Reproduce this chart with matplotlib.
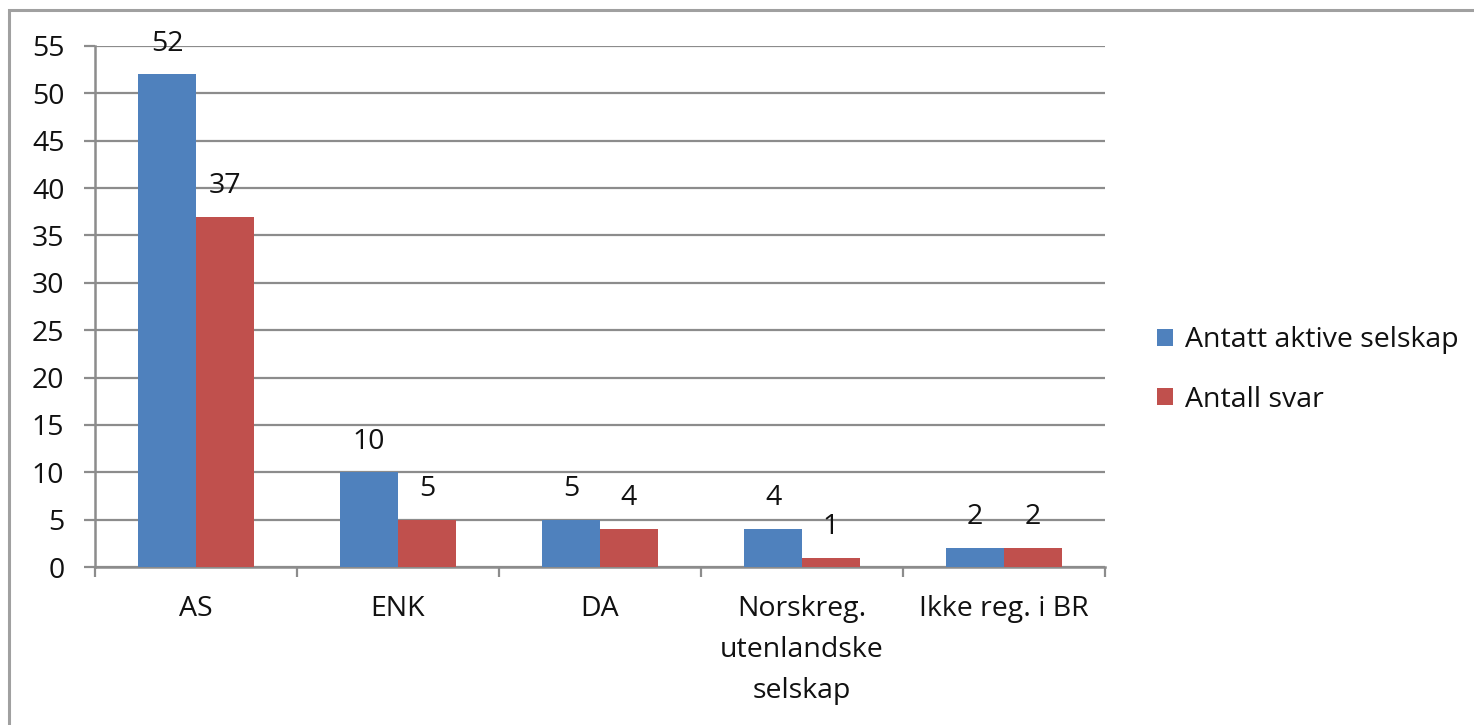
import matplotlib.pyplot as plt
from matplotlib.patches import Rectangle
import numpy as np

plt.rcParams['font.family'] = ['Open Sans', 'DejaVu Sans']

kategorier = ['AS', 'ENK', 'DA', 'Norskreg.\nutenlandske\nselskap', 'Ikke reg. i BR']
aktive = [52, 10, 5, 4, 2]
svar = [37, 5, 4, 1, 2]
serier = ['Antatt aktive selskap', 'Antall svar']

blaa = '#4F81BD'
roed = '#C0504D'
graa = '#8C8C8C'
tekst = '#111111'
fs = 20.5

fig = plt.figure(figsize=(14.74, 7.25), dpi=100)
ax = fig.add_axes([95/1474, 1 - 567/725, 1010/1474, 521/725])

x = np.arange(len(kategorier))
b = 0.287
s1 = ax.bar(x - b/2, aktive, width=b, color=blaa, label=serier[0], zorder=3)
s2 = ax.bar(x + b/2, svar, width=b, color=roed, label=serier[1], zorder=3)

for bars in (s1, s2):
    for rect in bars:
        h = rect.get_height()
        ax.annotate(str(int(h)), (rect.get_x() + rect.get_width()/2, h),
                    xytext=(0, 12), textcoords='offset points',
                    ha='center', va='bottom', fontsize=fs, color=tekst)

ax.set_xlim(-0.5, len(kategorier) - 0.5)
ax.set_ylim(0, 55)
ax.set_yticks(range(0, 56, 5))
ax.yaxis.grid(True, color=graa, linewidth=1.6, zorder=0)
ax.set_axisbelow(True)

ax.set_xticks(x)
ax.set_xticklabels(kategorier, fontsize=fs, linespacing=1.62, va='top', color=tekst)
ax.tick_params(axis='x', length=0, pad=20)
ax.set_xticks(np.arange(-0.5, len(kategorier)), minor=True)
ax.tick_params(axis='x', which='minor', length=7.5, width=1.6, color=graa)
ax.tick_params(axis='y', labelsize=fs, labelcolor=tekst, length=8, width=1.6,
               color=graa, pad=14)

for side in ('top', 'right'):
    ax.spines[side].set_visible(False)
for side in ('left', 'bottom'):
    ax.spines[side].set_color(graa)
    ax.spines[side].set_linewidth(1.8)

fig.legend(handles=[s1, s2], labels=serier, loc='center left',
           bbox_to_anchor=(1157/1474, 1 - 370/725), frameon=False,
           fontsize=fs, labelcolor=tekst, handlelength=0.55, handleheight=0.55,
           handletextpad=0.45, labelspacing=1.1, borderaxespad=0, borderpad=0)

# ramme rundt diagrammet
fig.patches.append(Rectangle((9/1474, -0.1), 1.2, 1 - 10/725 + 0.1,
                             transform=fig.transFigure, fill=False,
                             edgecolor='#A0A0A0', linewidth=2.2))

fig.savefig('out.png', dpi=100)
